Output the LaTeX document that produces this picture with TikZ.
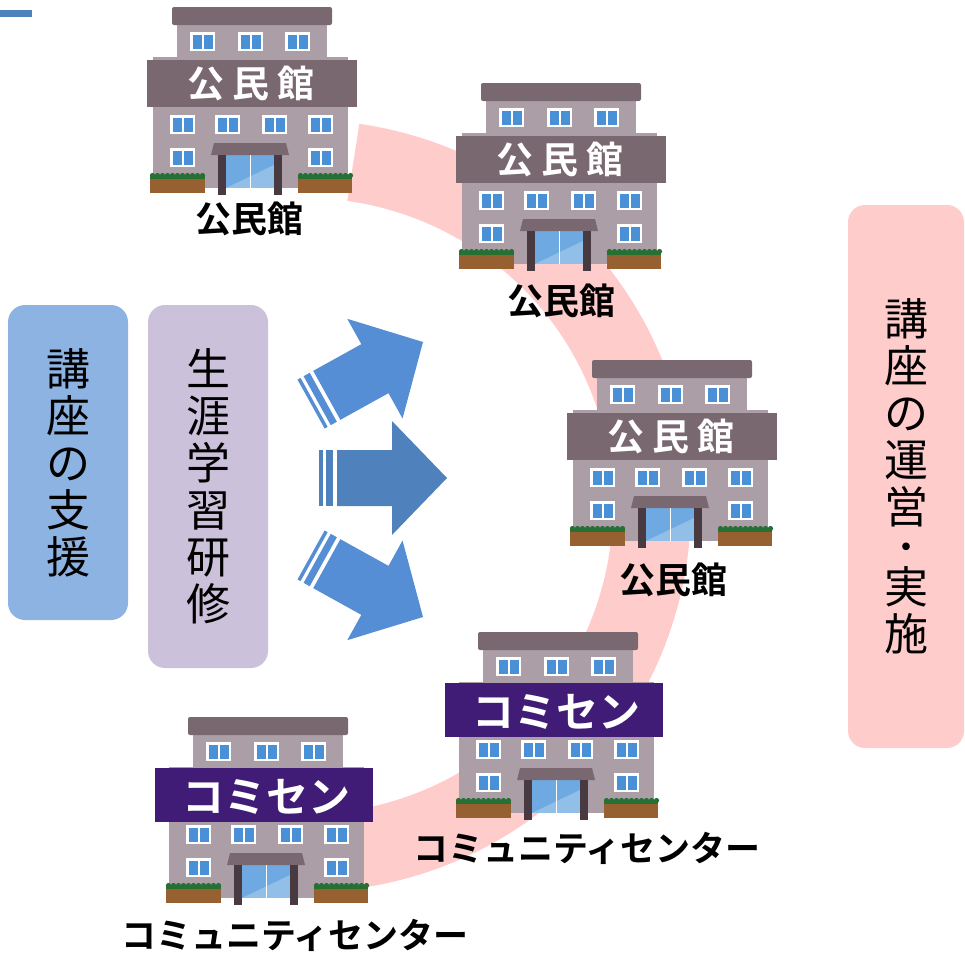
\documentclass[tikz,border=0pt]{standalone}
\usepackage{fontspec}
\newfontfamily\jp{Noto Sans CJK JP}[BoldFont={Noto Sans CJK JP Bold}]

\definecolor{capcol}{RGB}{122,104,113}
\definecolor{bodycol}{RGB}{172,158,166}
\definecolor{wincol}{RGB}{74,144,214}
\definecolor{glasscol}{RGB}{110,170,225}
\definecolor{postcol}{RGB}{72,58,64}
\definecolor{soilcol}{RGB}{150,96,48}
\definecolor{hedgecol}{RGB}{38,112,52}
\definecolor{signpurple}{RGB}{64,28,118}
\definecolor{arcpink}{RGB}{255,204,204}
\definecolor{boxblue}{RGB}{141,179,226}
\definecolor{boxlilac}{RGB}{204,193,218}
\definecolor{boxpink}{RGB}{255,204,204}
\definecolor{arrowA}{RGB}{85,142,213}
\definecolor{arrowB}{RGB}{79,129,189}

\tikzset{
  sidebox/.style={rounded corners=17pt, inner sep=0pt, align=center,
    font=\jp\fontsize{44}{47}\selectfont},
  lbl/.style={inner sep=0pt, font=\jp\bfseries\fontsize{36}{36}\selectfont},
  klbl/.style={inner sep=0pt, font=\jp\bfseries\fontsize{35}{35}\selectfont},
  signtext/.style={inner sep=0pt, text=white, font=\jp\bfseries\fontsize{37}{37}\selectfont},
  komitext/.style={inner sep=0pt, text=white, font=\jp\bfseries\fontsize{42}{42}\selectfont},
  % one window: white frame, two blue panes
  pics/win/.style={code={
    \fill[white] (0,0) rectangle (25,19);
    \fill[wincol] (2.5,2.5) rectangle (11.5,16.5);
    \fill[wincol] (13.5,2.5) rectangle (22.5,16.5);
  }},
  % the building itself, without its name board
  pics/bldg/.style={code={
    \fill[bodycol] (-19,50) rectangle (176,181);
    \fill[bodycol] (5,16) rectangle (155,60);
    \fill[capcol, rounded corners=2pt] (0,0) rectangle (160,18);
    \foreach \x in {18,66,113} \pic at (\x,25) {win};
    \foreach \x in {-2,43,90,136} \pic at (\x,108) {win};
    \foreach \x in {-2,136} \pic at (\x,141) {win};
    \fill[glasscol] (54,148) rectangle (102,181);
    \fill[white, opacity=.25] (54,181) -- (102,158) -- (102,181) -- cycle;
    \draw[white, line width=1pt] (78,148) -- (78,181);
    \fill[capcol] (42,136) -- (114,136) -- (117,148) -- (39,148) -- cycle;
    \fill[postcol] (46,148) rectangle (54,188);
    \fill[postcol] (102,148) rectangle (110,188);
    \foreach \a/\b in {-22/33, 126/180} {
      \fill[hedgecol] (\a,168) rectangle (\b,173);
      \foreach \k in {0,...,10}
        \fill[hedgecol] ({\a+2.5+\k*5},168.5) circle (2.6pt);
      \fill[soilcol] (\a,172) rectangle (\b,186);
    }
  }},
  pics/kominkan/.style={code={
    \pic {bldg};
    \fill[capcol] (-25,53) rectangle (185,100);
    \node[signtext] (-sign) at (79,77) {公\kern8pt民\kern8pt館};
  }},
  pics/komisen/.style={code={
    \pic {bldg};
    \fill[signpurple] (-33,51) rectangle (185,105);
    \node[komitext] (-sign) at (78,80) {コミセン};
  }},
  % block arrow with two stripes at its tail, tip at the origin
  pics/bigarrow/.style={code={
    \fill[#1] (-110,-28) -- (-55,-28) -- (-55,-57) -- (0,0) -- (-55,57) -- (-55,28) -- (-110,28) -- cycle;
    \fill[#1] (-121,-28) rectangle (-114,28);
    \fill[#1] (-128,-28) rectangle (-124.5,28);
  }},
}

\begin{document}
\begin{tikzpicture}[x=1pt, y=-1pt]
\useasboundingbox (0,0) rectangle (965,954);

% corner mark
\fill[arrowB] (0,10) rectangle (32,17);

% ring that links the venues
\draw[arcpink, line width=78pt, domain=-82:82, samples=90]
  plot ({305+347*cos(\x)},{506+347*sin(\x)});

% side boxes
\node[sidebox, fill=boxblue, minimum width=120pt, minimum height=315pt]
  (support) at (68,462.5) {講\\座\\の\\支\\援};
\node[sidebox, fill=boxlilac, minimum width=120pt, minimum height=363pt]
  (training) at (208,486.5) {生\\涯\\学\\習\\研\\修};
\node[sidebox, fill=boxpink, minimum width=116pt, minimum height=543pt]
  (operation) at (906,476.5)
  {講\\座\\の\\運\\営\\[-10pt]{\fontsize{36}{36}\selectfont ・}\\[-4pt]実\\施};

% arrows
\pic[rotate=29] (arrow-up) at (423,342) {bigarrow=arrowA};
\pic (arrow-mid) at (447,478) {bigarrow=arrowB};
\pic[rotate=-29] (arrow-down) at (423,617) {bigarrow=arrowA};

% buildings
\pic (b1) at (172,7) {kominkan};
\pic (b2) at (481,83) {kominkan};
\pic (b3) at (592,360) {kominkan};
\pic (b4) at (478,632) {komisen};
\pic (b5) at (188,717) {komisen};

% names under the buildings
\node[lbl] (b1-label) at (249,219) {公民館};
\node[lbl] (b2-label) at (561,301) {公民館};
\node[lbl] (b3-label) at (673,580) {公民館};
\node[klbl] (b4-label) at (587,848) {コミュニティセンター};
\node[klbl] (b5-label) at (295,935) {コミュニティセンター};
\end{tikzpicture}
\end{document}
